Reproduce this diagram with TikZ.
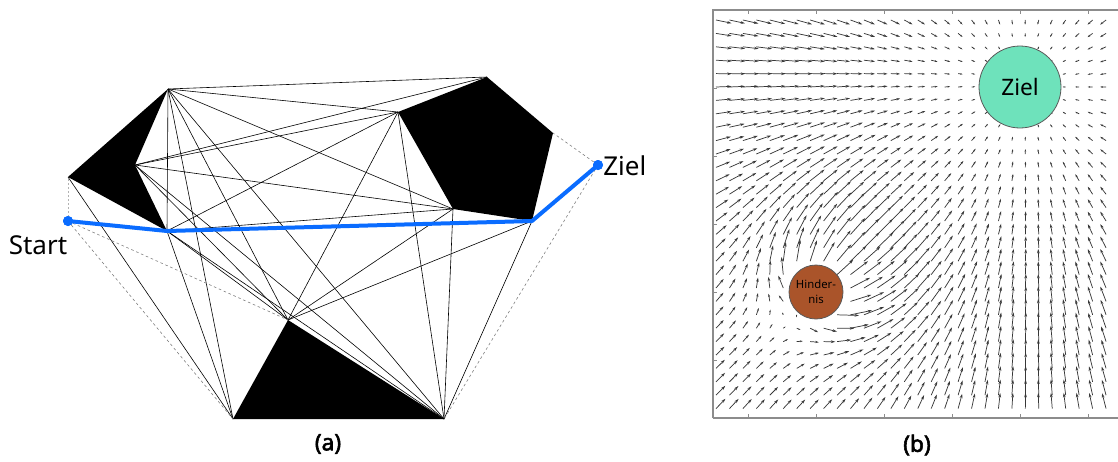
\documentclass[tikz,border=0pt]{standalone}
\usepackage{fontspec}
\setmainfont{Noto Sans}
\newfontfamily\capfont{Noto Sans}[FakeBold=2.5]
\usetikzlibrary{arrows.meta}
\definecolor{routeblue}{RGB}{10,108,255}
\definecolor{zielgreen}{RGB}{110,226,187}
\definecolor{hindbrown}{RGB}{170,84,42}
\definecolor{arrowgray}{RGB}{55,55,55}
\definecolor{framegray}{RGB}{140,140,140}
\begin{document}
\begin{tikzpicture}[x=0.75pt,y=-0.75pt,
  vis/.style={line width=0.45pt, black},
  aux/.style={line width=0.45pt, gray, dash pattern=on 2pt off 2pt},
  auxlight/.style={line width=0.6pt, gray!60, dash pattern=on 1.5pt off 1.5pt},
  route/.style={line width=3pt, color=routeblue, line join=round},
  dot/.style={circle, fill=routeblue, inner sep=0pt, minimum size=7.5pt},
  lbl/.style={font=\fontsize{19.5}{23}\selectfont, inner sep=0pt},
  captext/.style={font=\capfont\fontsize{17}{20}\selectfont, inner sep=0pt},
  vec/.style={line width=0.55pt, color=arrowgray},
  tickmark/.style={line width=0.5pt, color=framegray},
]
\useasboundingbox (0,0) rectangle (1118,461);

% ---------------- panel (a) ----------------
\coordinate (A) at (168,89);
\coordinate (B) at (68,177);
\coordinate (C) at (135,165);
\coordinate (D) at (167,231);
\coordinate (P1) at (487,77);
\coordinate (P2) at (398,112);
\coordinate (P3) at (553,133);
\coordinate (P4) at (532,221);
\coordinate (P5) at (453,209);
\coordinate (T1) at (288,320);
\coordinate (T2) at (233,419);
\coordinate (T3) at (444,419);
\node[dot] (S) at (68,221) {};
\node[dot] (G) at (598,165) {};

\foreach \u/\v in {A/P1,A/P2,A/P5,A/D,A/T1,A/T2,A/T3,B/T2,C/P1,C/P2,C/P5,C/T1,C/T3,
  D/P2,D/P5,D/T1,D/T2,D/T3,P2/T1,P2/T3,P5/T1,P5/T3,P4/T1,P4/T3,D/P4}
  \draw[vis] (\u) -- (\v);
\foreach \u/\v in {S/T1,S/T2,G/P3,G/T3}
  \draw[aux] (\u.center) -- (\v);
\draw[auxlight] (S.center) -- (B);

\fill (A) -- (B) -- (D) -- (C) -- cycle;
\fill (P1) -- (P3) -- (P4) -- (P5) -- (P2) -- cycle;
\fill (T1) -- (T3) -- (T2) -- cycle;

\draw[route] (S.center) -- (D) -- (P4) -- (G.center);
\node[dot] at (S) {};
\node[dot] at (G) {};

\node[lbl] (startlbl) at (38,245) {Start};
\node[lbl, anchor=west] (ziellbl) at (603,166) {Ziel};
\node[captext] (capa) at (328,444) {(a)};

% ---------------- panel (b) ----------------
\begin{scope}
\clip (713,10) rectangle (1118,418);
\foreach \i in {0,...,29}{
  \foreach \j in {0,...,29}{
    \pgfmathsetmacro{\px}{716+13.45*\i}
    \pgfmathsetmacro{\py}{20+13.4*\j}
    \pgfmathsetmacro{\ax}{0.07*(1020-\px)}
    \pgfmathsetmacro{\ay}{0.07*(87-\py)}
    \pgfmathsetmacro{\am}{veclen(\ax,\ay)}
    \pgfmathsetmacro{\sc}{\am>16 ? 16/\am : 1}
    \pgfmathsetmacro{\ax}{\ax*\sc}
    \pgfmathsetmacro{\ay}{\ay*\sc}
    \pgfmathsetmacro{\rx}{(\px-816)/10}
    \pgfmathsetmacro{\ry}{(\py-292)/10}
    \pgfmathsetmacro{\dd}{veclen(\rx,\ry)}
    \pgfmathtruncatemacro{\outside}{\dd>2.6 ? 1 : 0}
    \ifnum\outside=1
      \pgfmathsetmacro{\rr}{30*exp(-\dd/6)}
      \pgfmathsetmacro{\fx}{\ax+\rr*\rx/\dd}
      \pgfmathsetmacro{\fy}{\ay+\rr*\ry/\dd}
      \pgfmathsetmacro{\LL}{veclen(\fx,\fy)}
      \pgfmathsetmacro{\sb}{\LL>22 ? 22/\LL : 1}
      \pgfmathsetmacro{\fx}{\fx*\sb}
      \pgfmathsetmacro{\fy}{\fy*\sb}
      \pgfmathsetmacro{\LL}{\LL*\sb}
      \pgfmathsetmacro{\tl}{0.75*min(0.3*\LL+1,4.5)}
      \pgfmathsetmacro{\tw}{0.6*\tl}
      \draw[vec, -{Stealth[length=\tl pt, width=\tw pt]}] (\px,\py) -- ++(\fx,\fy);
    \fi
  }
}
\end{scope}
\draw[line width=0.8pt, framegray] (713,418) -- (713,10) -- (1118,10);
\draw[line width=0.8pt, framegray] (713,418) -- (1118,418);
\foreach \t in {748,816,884,952,1020,1088}{
  \draw[tickmark] (\t,10) -- (\t,14);
  \draw[tickmark] (\t,418) -- (\t,414);
}
\foreach \t in {88,156,224,292,360}{
  \draw[tickmark] (713,\t) -- (717,\t);
}
\node[circle, draw=gray!70!black, line width=0.6pt, fill=zielgreen, minimum size=61.5pt,
  font=\fontsize{17}{20}\selectfont] (ziel) at (1020,87) {Ziel};
\node[circle, draw=gray!70!black, line width=0.6pt, fill=hindbrown, minimum size=40.5pt,
  inner sep=0pt, align=center, font=\fontsize{8.5}{11}\selectfont] (hind) at (816,292) {Hinder-\\nis};
\node[captext] (capb) at (917,445) {(b)};
\end{tikzpicture}
\end{document}
